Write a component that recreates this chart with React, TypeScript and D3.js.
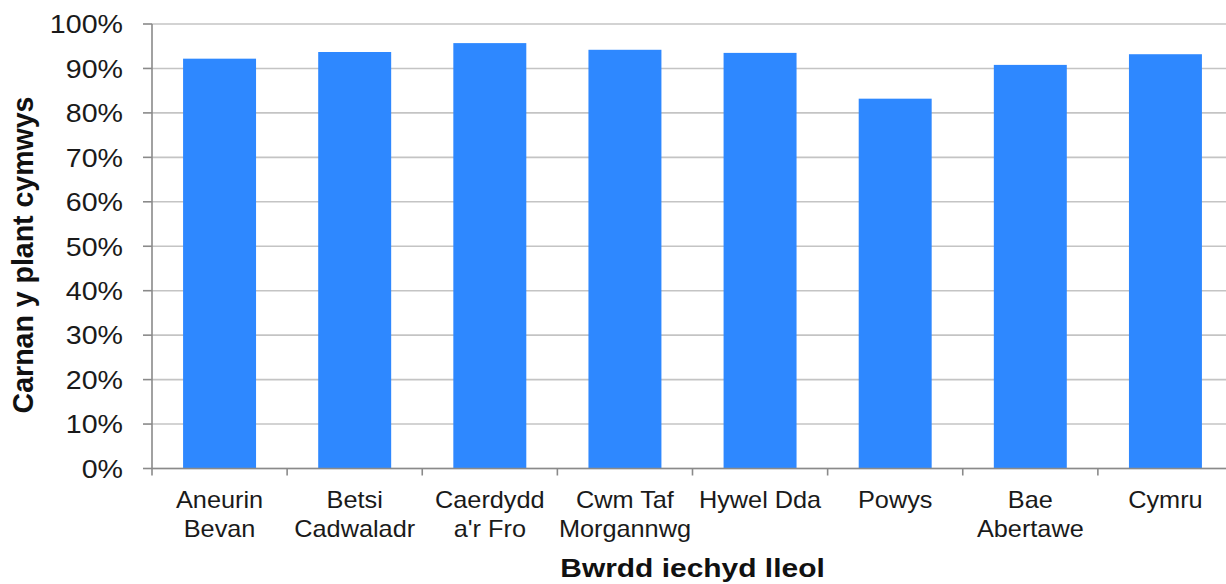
import React from "react";
import * as d3 from "d3";

const categories: string[][] = [
  ["Aneurin", "Bevan"],
  ["Betsi", "Cadwaladr"],
  ["Caerdydd", "a'r Fro"],
  ["Cwm Taf", "Morgannwg"],
  ["Hywel Dda"],
  ["Powys"],
  ["Bae", "Abertawe"],
  ["Cymru"],
];
const values: number[] = [92.2, 93.7, 95.7, 94.2, 93.5, 83.2, 90.8, 93.2];
const yTicks: number[] = [0, 10, 20, 30, 40, 50, 60, 70, 80, 90, 100];
const xTitle = "Bwrdd iechyd lleol";
const yTitle = "Carnan y plant cymwys";

const W = 1226;
const H = 584;
const left = 152;
const right = 1233;
const top = 24;
const bottom = 468.5;
const SX = 1.1;

export default function App() {
  const keys = categories.map((c) => c.join(" "));
  const x = d3.scaleBand<string>().domain(keys).range([left, right]).paddingInner(0.46).paddingOuter(0.23);
  const xs = d3.scaleBand<string>().domain(keys).range([left, right]).padding(0);
  const y = d3.scaleLinear().domain([0, 100]).range([bottom, top]);
  const font = "Liberation Sans, Arial, Helvetica, sans-serif";
  const step = xs.step();

  return (
    <svg width={W} height={H} style={{ position: "absolute", left: 0, top: 0, background: "#fff" }} fontFamily={font}>
      {/* gridlines */}
      {yTicks.map((t) => (
        <line key={"g" + t} x1={left} x2={W} y1={y(t)} y2={y(t)} stroke="#c4c4c4" strokeWidth={1.6} />
      ))}
      {/* bars */}
      {keys.map((k, i) => (
        <rect key={k} x={x(k)} y={y(values[i])} width={x.bandwidth()} height={y(0) - y(values[i])} fill="#2E88FF" />
      ))}
      {/* y axis */}
      <line x1={left} x2={left} y1={top} y2={bottom} stroke="#8a8a8a" strokeWidth={1.6} />
      {yTicks.map((t) => (
        <g key={"yt" + t}>
          <line x1={left - 9} x2={left} y1={y(t)} y2={y(t)} stroke="#8a8a8a" strokeWidth={1.6} />
          <text
            transform={`translate(${123},${y(t) + 9.3}) scale(${SX},1)`}
            textAnchor="end"
            fontSize={26}
            fill="#1a1a1a"
          >
            {t + "%"}
          </text>
        </g>
      ))}
      {/* x axis */}
      <line x1={left} x2={W} y1={bottom} y2={bottom} stroke="#8a8a8a" strokeWidth={1.6} />
      {keys.map((k, i) => (
        <line key={"xt" + k} x1={left + step * i} x2={left + step * i} y1={bottom} y2={bottom + 7} stroke="#8a8a8a" strokeWidth={1.6} />
      ))}
      {keys.map((k, i) => (
        <g key={"xl" + k}>
          {categories[i].map((line, j) => (
            <text
              key={j}
              transform={`translate(${(xs(k) as number) + step / 2},${508 + j * 28.5}) scale(${SX},1)`}
              textAnchor="middle"
              fontSize={23}
              fill="#1a1a1a"
            >
              {line}
            </text>
          ))}
        </g>
      ))}
      {/* axis titles */}
      <text
        transform={`translate(${(left + right) / 2},${577}) scale(1.13,1)`}
        textAnchor="middle"
        fontSize={26.5}
        fontWeight="bold"
        fill="#111"
      >
        {xTitle}
      </text>
      <text
        transform={`translate(${33},${255}) rotate(-90) scale(1,1.05)`}
        textAnchor="middle"
        fontSize={28.5}
        fontWeight="bold"
        fill="#111"
      >
        {yTitle}
      </text>
    </svg>
  );
}
